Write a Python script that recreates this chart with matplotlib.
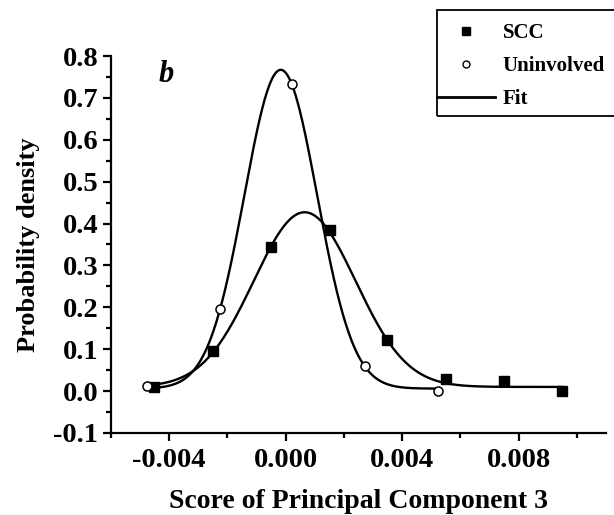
import numpy as np
import matplotlib
matplotlib.use("Agg")
import matplotlib.pyplot as plt
from matplotlib.lines import Line2D
from matplotlib.patches import Rectangle
from matplotlib.ticker import MultipleLocator, FormatStrFormatter

# measured densities
scc_x = [-0.00451, -0.00250, -0.00049, 0.00151, 0.00348, 0.00549, 0.00750, 0.00948]
scc_y = [0.010, 0.096, 0.344, 0.384, 0.121, 0.030, 0.023, 0.000]
uninv_x = [-0.00476, -0.00225, 0.00023, 0.00273, 0.00524]
uninv_y = [0.012, 0.195, 0.734, 0.060, 0.000]

# gaussian fit parameters: baseline, amplitude, centre, sigma
scc_fit = [0.010, 0.417, 0.00065, 0.00175]
uninv_fit = [0.006, 0.761, -0.00017, 0.00125]

x_ticks = [-0.004, 0.000, 0.004, 0.008]
y_ticks = [-0.1, 0.0, 0.1, 0.2, 0.3, 0.4, 0.5, 0.6, 0.7, 0.8]


def gauss(x, p):
    y0, a, xc, w = p
    return y0 + a * np.exp(-(x - xc) ** 2 / (2 * w ** 2))


plt.rcParams['font.family'] = ['Liberation Serif', 'DejaVu Serif']
plt.rcParams['font.weight'] = 'bold'

fig = plt.figure(figsize=(6.14, 5.15), dpi=100)
ax = fig.add_axes([111 / 614, 1 - 433 / 515, 495 / 614, 377 / 515])

xs = np.linspace(scc_x[0], scc_x[-1], 400)
ax.plot(xs, gauss(xs, scc_fit), color='k', lw=1.7)
xu = np.linspace(uninv_x[0], uninv_x[-1], 400)
ax.plot(xu, gauss(xu, uninv_fit), color='k', lw=1.7)

ax.plot(scc_x, scc_y, 's', color='k', ms=7, ls='none', zorder=3)
ax.plot(uninv_x, uninv_y, 'o', mfc='white', mec='k', mew=1.1, ms=6.5, ls='none', zorder=3)

ax.set_xlim(-0.006, 0.011)
ax.set_ylim(-0.1, 0.8)
ax.set_xticks(x_ticks)
ax.set_yticks(y_ticks)
ax.xaxis.set_minor_locator(MultipleLocator(0.002))
ax.yaxis.set_minor_locator(MultipleLocator(0.05))
ax.xaxis.set_major_formatter(FormatStrFormatter('%.3f'))
ax.yaxis.set_major_formatter(FormatStrFormatter('%.1f'))

for s in ['top', 'right']:
    ax.spines[s].set_visible(False)
for s in ['left', 'bottom']:
    ax.spines[s].set_linewidth(1.6)

ax.tick_params(which='major', direction='out', length=6, width=1.6, labelsize=20.5)
ax.tick_params(which='minor', direction='out', length=3.5, width=1.6)
ax.tick_params(axis='x', pad=5)
ax.tick_params(axis='y', pad=3)

ax.set_xlabel('Score of Principal Component 3', fontsize=20, fontweight='bold', labelpad=11)
ax.set_ylabel('Probability density', fontsize=19, fontweight='bold', labelpad=10)

ax.text(0.112, 0.95, 'b', transform=ax.transAxes, fontsize=22, fontweight='bold',
        fontstyle='italic', ha='center', va='center')

# legend frame and entries
fig.patches.append(Rectangle((437 / 614, 1 - 116 / 515), 200 / 614, 106 / 515,
                             transform=fig.transFigure, fill=False, ec='k', lw=1.3))
handles = [
    Line2D([], [], marker='s', color='k', ls='none', ms=6),
    Line2D([], [], marker='o', mfc='white', mec='k', mew=1.0, color='k', ls='none', ms=5),
    Line2D([], [], color='k', lw=2),
]
fig.legend(handles, ['SCC', 'Uninvolved', 'Fit'], loc='upper left',
           bbox_to_anchor=(437 / 614, 1 - 23 / 515), frameon=False, borderpad=0,
           borderaxespad=0, handlelength=2.8, handletextpad=0.35, labelspacing=0.62,
           prop={'size': 15, 'weight': 'bold'})

fig.savefig('out.png', dpi=100)
